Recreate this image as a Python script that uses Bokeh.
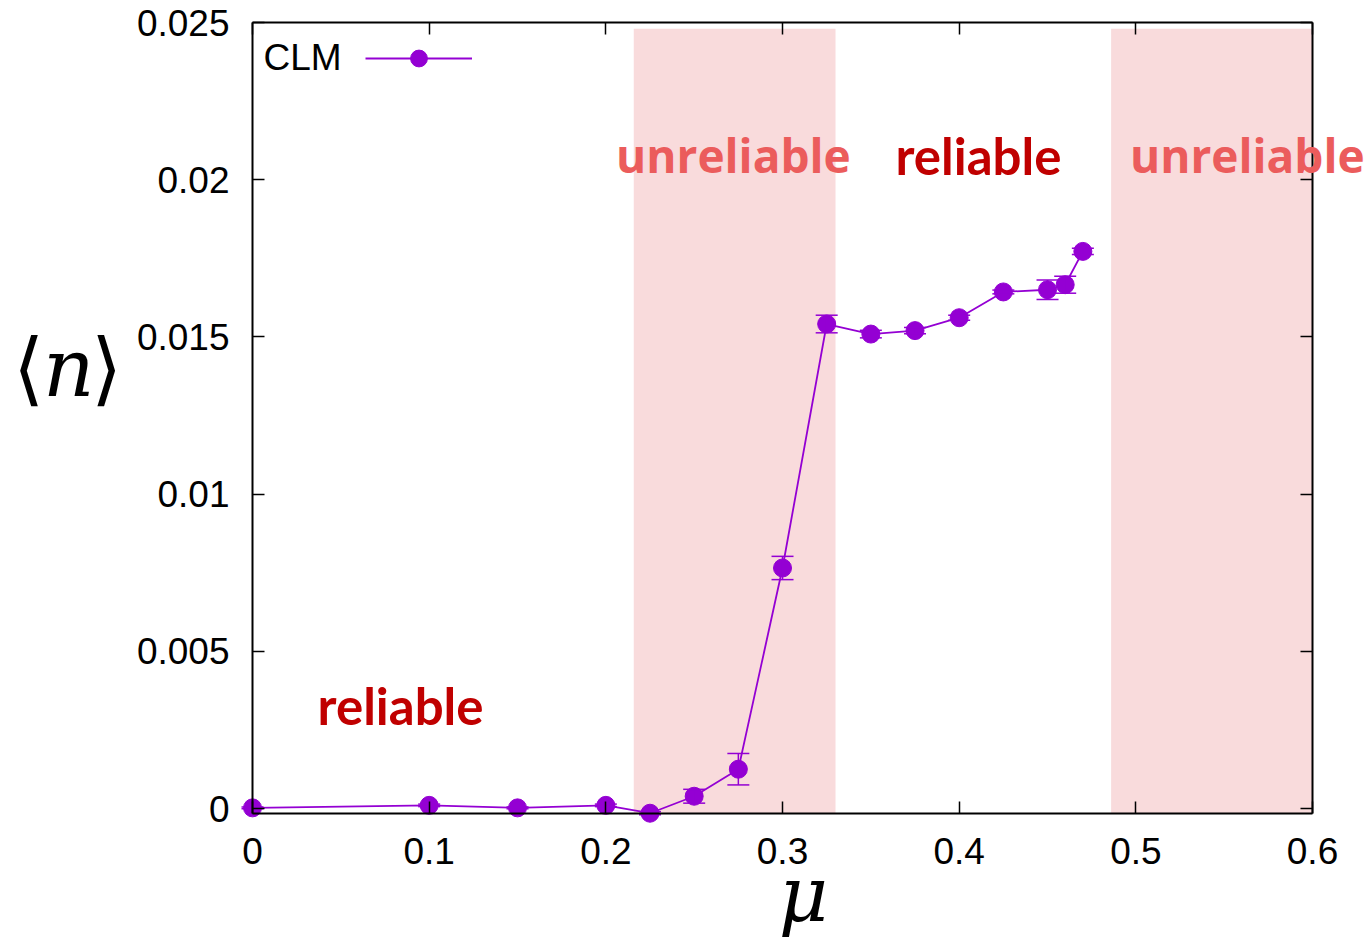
from bokeh.plotting import figure
from bokeh.models import (Range1d, FixedTicker, CustomJSTickFormatter, LinearAxis, Label,
                          Whisker, TeeHead, ColumnDataSource, Legend, LegendItem,
                          CustomLabelingPolicy)
from bokeh.embed import file_html
from bokeh.resources import INLINE

# ---- data ----
mu = [0.0, 0.1, 0.15, 0.2, 0.225, 0.25, 0.275, 0.3, 0.325, 0.35, 0.375, 0.4, 0.425, 0.45, 0.46, 0.47]
n_mean = [0.00002, 0.0001, 0.00002, 0.0001, -0.00015, 0.00039, 0.00125, 0.00765, 0.01541,
          0.01509, 0.0152, 0.01561, 0.01643, 0.0165, 0.01666, 0.01772]
n_err = [0.00003, 0.00004, 0.00003, 0.00004, 0.00005, 0.00022, 0.0005, 0.00037, 0.00028,
         0.00012, 0.0001, 0.00008, 0.00006, 0.00031, 0.00027, 0.0001]
shade_left = [0.2158, 0.486]
shade_right = [0.33, 0.6]
x_ticks = [0, 0.1, 0.2, 0.3, 0.4, 0.5, 0.6]
y_ticks = [0, 0.005, 0.01, 0.015, 0.02, 0.025]
region_text = ["unreliable", "reliable", "unreliable", "reliable"]
region_x = [0.2722, 0.4109, 0.5631, 0.0838]
region_y = [0.02077, 0.02077, 0.02077, 0.00328]
series_name = "CLM"

X_MIN, X_MAX = 0.0, 0.6
Y_MIN, Y_MAX = -0.00016, 0.025

PURPLE = "#9400d3"
W, H = 1366, 938

p = figure(width=W, height=H, output_backend="svg", toolbar_location=None,
           x_range=Range1d(-0.14264, 0.63055), y_range=Range1d(-0.0041349, 0.025700),
           min_border_left=0, min_border_right=0, min_border_top=0, min_border_bottom=0,
           x_axis_location=None, y_axis_location=None)
p.title.visible = False
p.grid.visible = False
p.outline_line_color = None
p.background_fill_color = "white"
p.border_fill_color = "white"

# shaded regions
p.quad(left=shade_left, right=shade_right, bottom=Y_MIN, top=0.0248,
       fill_color="#f9dbdc", line_color=None)

src = ColumnDataSource(dict(x=mu, y=n_mean,
                            lo=[a - b for a, b in zip(n_mean, n_err)],
                            hi=[a + b for a, b in zip(n_mean, n_err)]))
ln = p.line("x", "y", source=src, line_color=PURPLE, line_width=1.8)
w = Whisker(base="x", upper="hi", lower="lo", source=src, dimension="height",
            line_color=PURPLE, line_width=1.5, level="glyph",
            upper_head=TeeHead(size=22, line_color=PURPLE, line_width=1.5),
            lower_head=TeeHead(size=22, line_color=PURPLE, line_width=1.5))
p.add_layout(w)
sc = p.scatter("x", "y", source=src, size=18, marker="circle", fill_color=PURPLE, line_color=PURPLE)

fmt_code = """
if (Math.abs(tick) < 1e-12) return "0";
return String(parseFloat(tick.toFixed(4)));
"""
no_labels = CustomLabelingPolicy(code="""
for (const i of indices) { indices.unset(i) }
return indices
""")


def make_axis(ticks, loc, bounds, labels, standoff=0):
    ax = LinearAxis(ticker=FixedTicker(ticks=ticks), fixed_location=loc, bounds=bounds,
                    major_tick_in=12, major_tick_out=0, minor_tick_line_color=None,
                    major_tick_line_width=1.5, axis_line_width=2, axis_line_color="black",
                    major_tick_line_color="black",
                    formatter=CustomJSTickFormatter(code=fmt_code),
                    major_label_text_font="Liberation Sans",
                    major_label_text_font_size="37px", major_label_text_color="black",
                    major_label_standoff=standoff)
    if not labels:
        ax.major_label_policy = no_labels
    return ax


p.add_layout(make_axis(x_ticks, Y_MIN, (X_MIN, X_MAX), True, 24), "below")
p.add_layout(make_axis(y_ticks, X_MIN, (Y_MIN, Y_MAX), True, 23), "left")
p.add_layout(make_axis(x_ticks, Y_MAX, (X_MIN, X_MAX), False), "above")
p.add_layout(make_axis(y_ticks, X_MAX, (Y_MIN, Y_MAX), False), "right")

# region texts
for t, x, y in zip(region_text, region_x, region_y):
    if t == "unreliable":
        lab = Label(x=x, y=y, text=t, text_align="center", text_baseline="middle",
                    text_font="Open Sans", text_font_style="bold", text_font_size="46px",
                    text_color="#eb5c5c")
    else:
        lab = Label(x=x, y=y, text=t, text_align="center", text_baseline="middle",
                    text_font="Lato", text_font_style="bold", text_font_size="51px",
                    text_color="#c00000")
    p.add_layout(lab)

# y-axis label ⟨n⟩: upright brackets, italic n
for txt, xx, style in [("⟨", -0.1268, "normal"), ("n", -0.1040, "italic"), ("⟩", -0.0826, "normal")]:
    p.add_layout(Label(x=xx, y=0.01400, text=txt, text_align="center", text_baseline="middle",
                       text_font="DejaVu Serif", text_font_style=style, text_font_size="80px",
                       text_color="black"))
# x-axis label
p.add_layout(Label(x=0.3118, y=-0.00275, text="μ", text_align="center", text_baseline="middle",
                   text_font="DejaVu Serif", text_font_style="italic", text_font_size="76px",
                   text_color="black"))

# legend: name on the left, sample on the right
p.add_layout(Label(x=0.0062, y=0.02389, text=series_name, text_align="left", text_baseline="middle",
                   text_font="Liberation Sans", text_font_size="37px", text_color="black"))
leg = Legend(items=[LegendItem(label=" ", renderers=[ln, sc])], location=(365, H - 79),
             glyph_width=107, glyph_height=42, padding=0, margin=0, spacing=0,
             label_standoff=0, border_line_color=None, background_fill_alpha=0,
             label_text_font="Liberation Sans", label_text_font_size="37px",
             label_text_color="black")
p.add_layout(leg)

open("out.html", "w").write(file_html(p, INLINE))
